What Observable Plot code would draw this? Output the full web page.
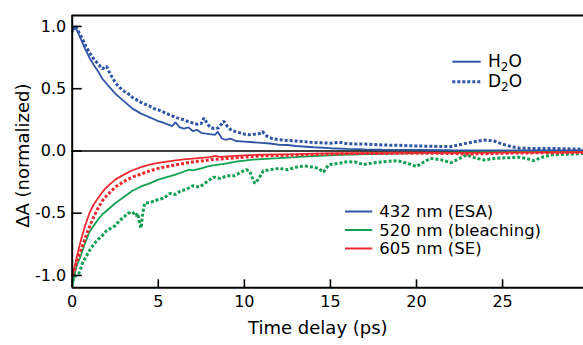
<!DOCTYPE html>
<html>
<head>
<meta charset="utf-8">
<script src="https://cdn.jsdelivr.net/npm/d3@7"></script>
<script src="https://cdn.jsdelivr.net/npm/@observablehq/plot@0.6"></script>
<style>
  html, body { margin: 0; padding: 0; background: #fff; }
  #chart { width: 583px; height: 345px; }
</style>
</head>
<body>
<div id="chart"></div>
<script>
// ---- Data ----
const xTicks = [0, 5, 10, 15, 20, 25];
const yTicks = [-1, -0.5, 0, 0.5, 1];
const xLabel = "Time delay (ps)";
const yLabel = "ΔA (normalized)";

// 432 nm (ESA), H2O — [time ps, ΔA]
const esaH2O = [[0,0.95],[0.15,1.0],[0.3,0.96],[0.5,0.9],[0.75,0.82],[1.0,0.75],[1.25,0.69],[1.5,0.64],[1.75,0.58],[2.0,0.54],[2.25,0.5],[2.5,0.46],[2.75,0.43],[3.0,0.4],[3.25,0.37],[3.5,0.34],[3.75,0.32],[4.0,0.3],[4.25,0.285],[4.5,0.27],[4.75,0.255],[5.0,0.24],[5.25,0.23],[5.5,0.215],[5.8,0.2],[6.0,0.23],[6.25,0.19],[6.5,0.18],[6.75,0.19],[7.0,0.16],[7.25,0.17],[7.5,0.145],[7.75,0.14],[8.0,0.135],[8.3,0.13],[8.45,0.155],[8.7,0.1],[8.9,0.09],[9.2,0.1],[9.5,0.08],[10,0.075],[10.5,0.07],[11,0.065],[11.5,0.06],[12,0.05],[12.5,0.048],[13,0.04],[14,0.03],[15,0.022],[16,0.016],[17,0.012],[18,0.01],[20,0.008],[22,0.006],[25,0.005],[29.7,0.004]];
// 432 nm (ESA), D2O
const esaD2O = [[0,0.97],[0.2,1.0],[0.4,0.95],[0.6,0.9],[0.8,0.84],[1.0,0.79],[1.25,0.74],[1.5,0.7],[1.75,0.66],[2.0,0.68],[2.2,0.62],[2.5,0.55],[2.75,0.51],[3.0,0.48],[3.25,0.46],[3.5,0.43],[3.75,0.41],[4.0,0.39],[4.25,0.375],[4.5,0.36],[4.75,0.34],[5.0,0.33],[5.25,0.315],[5.5,0.3],[5.75,0.285],[6.0,0.27],[6.25,0.26],[6.5,0.25],[6.75,0.235],[7.0,0.225],[7.25,0.215],[7.5,0.22],[7.65,0.265],[7.85,0.22],[8.0,0.19],[8.25,0.18],[8.5,0.185],[8.8,0.24],[9.0,0.2],[9.25,0.165],[9.5,0.155],[9.75,0.145],[10.0,0.135],[10.3,0.13],[10.6,0.135],[10.9,0.14],[11.05,0.155],[11.3,0.12],[11.6,0.1],[12.0,0.09],[12.5,0.085],[13,0.08],[13.5,0.075],[14,0.068],[14.5,0.065],[15,0.062],[15.5,0.07],[16,0.058],[17,0.055],[18,0.048],[19,0.045],[20,0.04],[21,0.037],[22,0.035],[22.5,0.05],[23,0.065],[23.5,0.078],[24,0.088],[24.5,0.08],[25,0.055],[25.5,0.035],[26,0.022],[27,0.02],[28,0.02],[29,0.016],[29.7,0.014]];
// 520 nm (bleaching), H2O
const bleachH2O = [[0,-1.1],[0.12,-1.0],[0.25,-0.93],[0.5,-0.84],[0.75,-0.74],[1.0,-0.65],[1.25,-0.6],[1.5,-0.55],[1.75,-0.51],[2.0,-0.48],[2.5,-0.42],[3.0,-0.37],[3.5,-0.32],[4.0,-0.285],[4.5,-0.26],[5.0,-0.23],[5.5,-0.21],[6.0,-0.19],[6.5,-0.165],[6.8,-0.15],[7.0,-0.155],[7.5,-0.14],[8.0,-0.12],[8.5,-0.11],[9.0,-0.1],[9.5,-0.085],[10,-0.078],[10.5,-0.07],[11,-0.065],[12,-0.058],[13,-0.05],[14,-0.042],[15,-0.035],[16,-0.03],[18,-0.024],[20,-0.018],[22,-0.013],[24,-0.01],[26,-0.008],[29.7,-0.007]];
// 520 nm (bleaching), D2O
const bleachD2O = [[0,-1.05],[0.2,-1.0],[0.4,-0.98],[0.6,-0.9],[0.8,-0.85],[1.0,-0.8],[1.25,-0.75],[1.5,-0.71],[1.75,-0.68],[2.0,-0.64],[2.25,-0.62],[2.5,-0.6],[2.75,-0.56],[3.0,-0.53],[3.25,-0.5],[3.5,-0.49],[3.7,-0.52],[3.8,-0.5],[3.92,-0.58],[4.0,-0.62],[4.08,-0.52],[4.2,-0.42],[4.6,-0.41],[5.0,-0.39],[5.3,-0.38],[5.7,-0.34],[6.0,-0.35],[6.3,-0.32],[6.6,-0.31],[7.0,-0.28],[7.4,-0.29],[7.8,-0.25],[8.2,-0.21],[8.6,-0.22],[9.0,-0.2],[9.4,-0.2],[9.8,-0.17],[10.1,-0.15],[10.3,-0.16],[10.6,-0.26],[10.8,-0.23],[11.1,-0.16],[11.5,-0.15],[12,-0.14],[12.5,-0.15],[13,-0.13],[13.5,-0.12],[14.0,-0.13],[14.3,-0.14],[14.6,-0.17],[14.9,-0.11],[15.5,-0.1],[16.0,-0.085],[16.5,-0.09],[16.9,-0.11],[17.5,-0.095],[18.1,-0.086],[18.9,-0.078],[19.5,-0.1],[20.0,-0.125],[20.4,-0.09],[20.8,-0.06],[21.4,-0.07],[22.0,-0.094],[22.5,-0.06],[22.9,-0.032],[23.4,-0.055],[23.9,-0.072],[24.5,-0.06],[25.2,-0.055],[25.9,-0.051],[26.4,-0.06],[26.8,-0.078],[27.3,-0.05],[27.8,-0.032],[28.5,-0.028],[29.2,-0.025],[29.7,-0.019]];
// 605 nm (SE), H2O
const seH2O = [[0,-1.0],[0.1,-0.96],[0.25,-0.86],[0.5,-0.72],[0.75,-0.6],[1.0,-0.5],[1.25,-0.43],[1.5,-0.38],[1.75,-0.33],[2.0,-0.29],[2.5,-0.23],[3.0,-0.19],[3.5,-0.155],[4.0,-0.13],[4.5,-0.11],[5.0,-0.095],[5.5,-0.085],[6.0,-0.075],[6.5,-0.068],[7.0,-0.062],[7.5,-0.056],[8.0,-0.05],[8.3,-0.04],[8.6,-0.047],[9.0,-0.043],[10,-0.035],[11,-0.03],[12,-0.027],[13,-0.025],[14,-0.022],[15,-0.02],[17,-0.018],[20,-0.016],[23,-0.015],[26,-0.013],[29.7,-0.012]];
// 605 nm (SE), D2O
const seD2O = [[0,-1.0],[0.15,-0.95],[0.3,-0.87],[0.5,-0.8],[0.75,-0.7],[1.0,-0.61],[1.25,-0.53],[1.5,-0.46],[1.75,-0.4],[2.0,-0.36],[2.5,-0.29],[3.0,-0.245],[3.5,-0.21],[4.0,-0.185],[4.5,-0.16],[5.0,-0.14],[5.5,-0.125],[6.0,-0.112],[6.5,-0.1],[7.0,-0.088],[7.5,-0.08],[8.0,-0.072],[8.5,-0.065],[9.0,-0.06],[10,-0.05],[11,-0.04],[12,-0.036],[13,-0.032],[14,-0.028],[15,-0.025],[16,-0.022],[18,-0.02],[20,-0.018],[22,-0.02],[23,-0.025],[24,-0.022],[25,-0.018],[27,-0.015],[29.7,-0.012]];

const wavelengths = ["432 nm (ESA)", "520 nm (bleaching)", "605 nm (SE)"];
const solvents = ["H2O", "D2O"];
const colors = ["#2f55a6", "#12a052", "#ee2a30"];

// ---- Build table ----
const seriesList = [
  {wl: 0, sv: 0, pts: esaH2O}, {wl: 0, sv: 1, pts: esaD2O},
  {wl: 1, sv: 0, pts: bleachH2O}, {wl: 1, sv: 1, pts: bleachD2O},
  {wl: 2, sv: 0, pts: seH2O}, {wl: 2, sv: 1, pts: seD2O}
];

const W = 583, H = 345;
const mL = 71.7, mR = 0, mT = 15, mB = 57.7;
const xDomain = [0, 29.7];
const yDomain = [-1.099, 1.088];

const lineMarks = seriesList.map(s => Plot.line(s.pts, {
  x: d => d[0], y: d => d[1],
  stroke: colors[s.wl],
  strokeWidth: s.sv === 0 ? 1.8 : 3,
  strokeDasharray: s.sv === 0 ? null : "3,2",
  strokeLinecap: "butt",
  strokeLinejoin: "miter",
  clip: true
}));

const chart = Plot.plot({
  width: W, height: H,
  marginLeft: mL, marginRight: mR, marginTop: mT, marginBottom: mB,
  style: {fontFamily: "DejaVu Sans", fontSize: "16px", color: "black", background: "white"},
  x: {domain: xDomain},
  y: {domain: yDomain},
  marks: [
    Plot.ruleY([0], {stroke: "black", strokeWidth: 1.5}),
    ...lineMarks,
    Plot.ruleX([xDomain[0]], {stroke: "black", strokeWidth: 2}),
    Plot.ruleY([yDomain[0]], {stroke: "black", strokeWidth: 2}),
    Plot.ruleY([yDomain[1]], {stroke: "black", strokeWidth: 2}),
    // inward tick marks
    Plot.axisY(yTicks, {tickSize: 10, dx: 10, tickFormat: () => "", strokeWidth: 1.6, label: null}),
    Plot.axisX(xTicks, {tickSize: 8, dy: -8, tickFormat: () => "", strokeWidth: 1.6, label: null}),
    // tick labels
    Plot.axisY(yTicks, {tickSize: 0, tickPadding: 6, tickFormat: d => d.toFixed(1), fontSize: 16, label: null}),
    Plot.axisX(xTicks, {tickSize: 0, tickPadding: 7.5, tickFormat: d => String(d), fontSize: 16, label: null}),
    // axis titles
    Plot.text([xLabel], {frameAnchor: "bottom", text: d => d, textAnchor: "middle", dx: -10, dy: 46, lineAnchor: "bottom", fontSize: 18}),
    Plot.text([yLabel], {frameAnchor: "left", text: d => d, textAnchor: "middle", rotate: -90, dx: -43.5, dy: 4, lineAnchor: "bottom", fontSize: 18})
  ]
});

document.getElementById("chart").appendChild(chart);

// ---- Legends ----
const svg = d3.select(chart);
const leg1 = svg.append("g").attr("font-family", "DejaVu Sans").attr("font-size", 17).attr("text-anchor", "start");
solvents.forEach((name, i) => {
  const y = 61.7 + i * 20;
  leg1.append("line").attr("x1", 452.3).attr("x2", 480.7).attr("y1", y).attr("y2", y)
    .attr("stroke", colors[0]).attr("stroke-width", i === 0 ? 2 : 3)
    .attr("stroke-linecap", "butt")
    .attr("stroke-dasharray", i === 0 ? null : "3,2");
  const t = leg1.append("text").attr("x", 488).attr("y", y + 5.5).attr("fill", "black");
  t.append("tspan").text(name[0]);
  t.append("tspan").attr("font-size", 12).attr("dy", 4).text(name[1]);
  t.append("tspan").attr("dy", -4).text(name[2]);
});
const leg2 = svg.append("g").attr("font-family", "DejaVu Sans").attr("font-size", 16.5).attr("text-anchor", "start");
wavelengths.forEach((name, i) => {
  const y = 211.5 + i * 18.5;
  leg2.append("line").attr("x1", 345).attr("x2", 372.3).attr("y1", y).attr("y2", y)
    .attr("stroke", colors[i]).attr("stroke-width", 2).attr("stroke-linecap", "butt");
  leg2.append("text").attr("x", 379.3).attr("y", y + 5.5).attr("fill", "black").text(name);
});
</script>
</body>
</html>
